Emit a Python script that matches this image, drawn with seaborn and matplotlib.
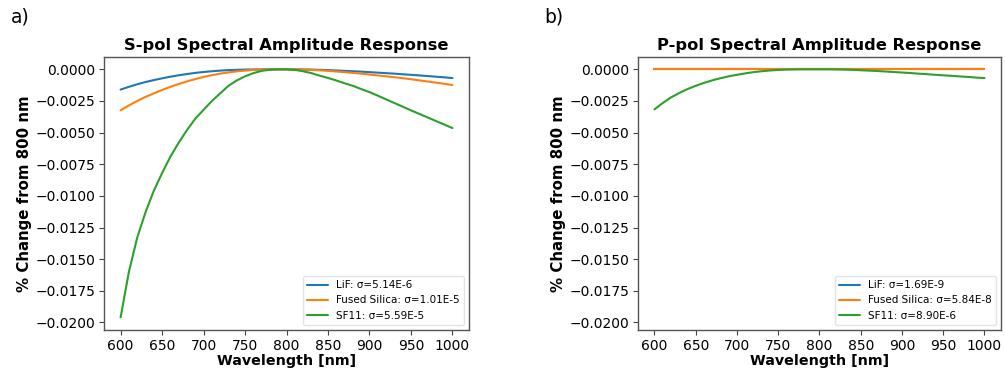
import numpy as np
import pandas as pd
import matplotlib
matplotlib.use("Agg")
import matplotlib.pyplot as plt
import seaborn as sns

wavelength = [600, 610, 620, 630, 640, 650, 660, 670, 680, 690,
              700, 710, 720, 730, 740, 750, 760, 770, 780, 790,
              800, 810, 820, 830, 840, 850, 860, 870, 880, 890,
              900, 910, 920, 930, 940, 950, 960, 970, 980, 990, 1000]

s_lif = [-0.0016, -0.00138, -0.00118, -0.001, -0.00085, -0.00071, -0.00058, -0.00047, -0.00037, -0.00028,
         -0.00021, -0.00015, -0.0001, -0.00006, -0.00004, -0.00002, -0.00001, 0.0, 0.0, 0.0,
         0.0, 0.0, -0.00001, -0.00002, -0.00004, -0.00006, -0.00009, -0.00012, -0.00015, -0.00018,
         -0.00022, -0.00026, -0.0003, -0.00034, -0.00039, -0.00043, -0.00048, -0.00053, -0.00058, -0.00063, -0.00069]
s_fs = [-0.00324, -0.00285, -0.0025, -0.00218, -0.0019, -0.00163, -0.00138, -0.00116, -0.00095, -0.00077,
        -0.0006, -0.00046, -0.00034, -0.00024, -0.00016, -0.0001, -0.00005, -0.00002, -0.00001, 0.0,
        0.0, 0.0, -0.00002, -0.00004, -0.00008, -0.00012, -0.00017, -0.00022, -0.00028, -0.00034,
        -0.00041, -0.00048, -0.00055, -0.00062, -0.0007, -0.00078, -0.00087, -0.00096, -0.00105, -0.00114, -0.00124]
s_sf11 = [-0.0196, -0.0160, -0.0133, -0.0113, -0.0096, -0.0082, -0.0069, -0.0058, -0.0048, -0.0039,
          -0.0032, -0.0025, -0.0019, -0.0013, -0.00088, -0.00055, -0.0003, -0.00012, -0.00003, 0.0,
          0.0, -0.00004, -0.00015, -0.0003, -0.0005, -0.00068, -0.00088, -0.0011, -0.0013, -0.00156,
          -0.0018, -0.00208, -0.00237, -0.00266, -0.00295, -0.00324, -0.00352, -0.0038, -0.00408, -0.00436, -0.00464]

p_lif = [0.0, 0.0, 0.0, 0.0, 0.0, 0.0, 0.0, 0.0, 0.0, 0.0,
         0.0, 0.0, 0.0, 0.0, 0.0, 0.0, 0.0, 0.0, 0.0, 0.0,
         0.0, 0.0, 0.0, 0.0, 0.0, 0.0, 0.0, 0.0, 0.0, 0.0,
         0.0, 0.0, 0.0, 0.0, 0.0, 0.0, 0.0, 0.0, 0.0, 0.0, 0.0]
p_fs = [0.0, 0.0, 0.0, 0.0, 0.0, 0.0, 0.0, 0.0, 0.0, 0.0,
        0.0, 0.0, 0.0, 0.0, 0.0, 0.0, 0.0, 0.0, 0.0, 0.0,
        0.0, 0.0, 0.0, 0.0, 0.0, 0.0, 0.0, 0.0, 0.0, 0.0,
        0.0, 0.0, 0.0, 0.0, 0.0, 0.0, 0.0, 0.0, 0.0, 0.0, 0.0]
p_sf11 = [-0.00316, -0.00266, -0.00222, -0.00187, -0.00156, -0.0013, -0.00107, -0.00087, -0.0007, -0.00055,
          -0.00043, -0.00032, -0.00022, -0.00015, -0.00009, -0.00005, -0.00002, -0.00001, 0.0, 0.0,
          0.0, 0.0, -0.00001, -0.00002, -0.00004, -0.00007, -0.0001, -0.00013, -0.00017, -0.00021,
          -0.00025, -0.00029, -0.00034, -0.00038, -0.00043, -0.00047, -0.00051, -0.00056, -0.0006, -0.00065, -0.00069]

s_labels = ["LiF: σ=5.14E-6", "Fused Silica: σ=1.01E-5", "SF11: σ=5.59E-5"]
p_labels = ["LiF: σ=1.69E-9", "Fused Silica: σ=5.84E-8", "SF11: σ=8.90E-6"]
titles = ["S-pol Spectral Amplitude Response", "P-pol Spectral Amplitude Response"]
panel_tags = ["a)", "b)"]
yticks = [0.0, -0.0025, -0.005, -0.0075, -0.01, -0.0125, -0.015, -0.0175, -0.02]
xticks = [600, 650, 700, 750, 800, 850, 900, 950, 1000]

sns.set_theme(style="ticks", palette="tab10")
plt.rcParams["font.family"] = ["DejaVu Sans"]
plt.rcParams["text.color"] = "black"
plt.rcParams["axes.labelcolor"] = "black"


def make_df(series, labels):
    frames = []
    for vals, lab in zip(series, labels):
        frames.append(pd.DataFrame({"Wavelength": wavelength, "value": vals, "Material": lab}))
    return pd.concat(frames, ignore_index=True)


fig = plt.figure(figsize=(10.05, 3.71), dpi=100)
ax1 = fig.add_axes([0.1035, 0.1105, 0.3632, 0.736])
ax2 = fig.add_axes([0.6348, 0.1105, 0.3612, 0.736])

colors = sns.color_palette("tab10", 3)
for ax, series, labels, title in [(ax1, [s_lif, s_fs, s_sf11], s_labels, titles[0]),
                                  (ax2, [p_lif, p_fs, p_sf11], p_labels, titles[1])]:
    df = make_df(series, labels)
    sns.lineplot(data=df, x="Wavelength", y="value", hue="Material", palette=colors,
                 ax=ax, linewidth=1.5, sort=False)
    ax.set_ylim(-0.0206, 0.00098)
    ax.set_xlim(580, 1020)
    ax.set_xticks(xticks)
    ax.set_yticks(yticks)
    ax.set_yticklabels([f"{t:.4f}".replace("-", "\u2212") for t in yticks])
    ax.tick_params(labelsize=10, length=3.5, width=0.8, colors="#444444", labelcolor="black", pad=3)
    for sp in ax.spines.values():
        sp.set_visible(True)
        sp.set_color("#555555")
        sp.set_linewidth(1.0)
    ax.set_title(title, fontsize=11.7, fontweight="bold", pad=5)
    ax.set_xlabel("Wavelength [nm]", fontsize=10.3, fontweight="bold", labelpad=1)
    ax.set_ylabel("% Change from 800 nm", fontsize=10.8, fontweight="bold", labelpad=2)
    leg = ax.legend(loc="lower right", fontsize=7.5, frameon=True, title=None)
    leg.get_frame().set_edgecolor("#dddddd")

fig.text(0.011, 0.955, panel_tags[0], fontsize=13.5, va="center", ha="left", color="black")
fig.text(0.542, 0.955, panel_tags[1], fontsize=13.5, va="center", ha="left", color="black")

fig.savefig("out.png", dpi=100)
